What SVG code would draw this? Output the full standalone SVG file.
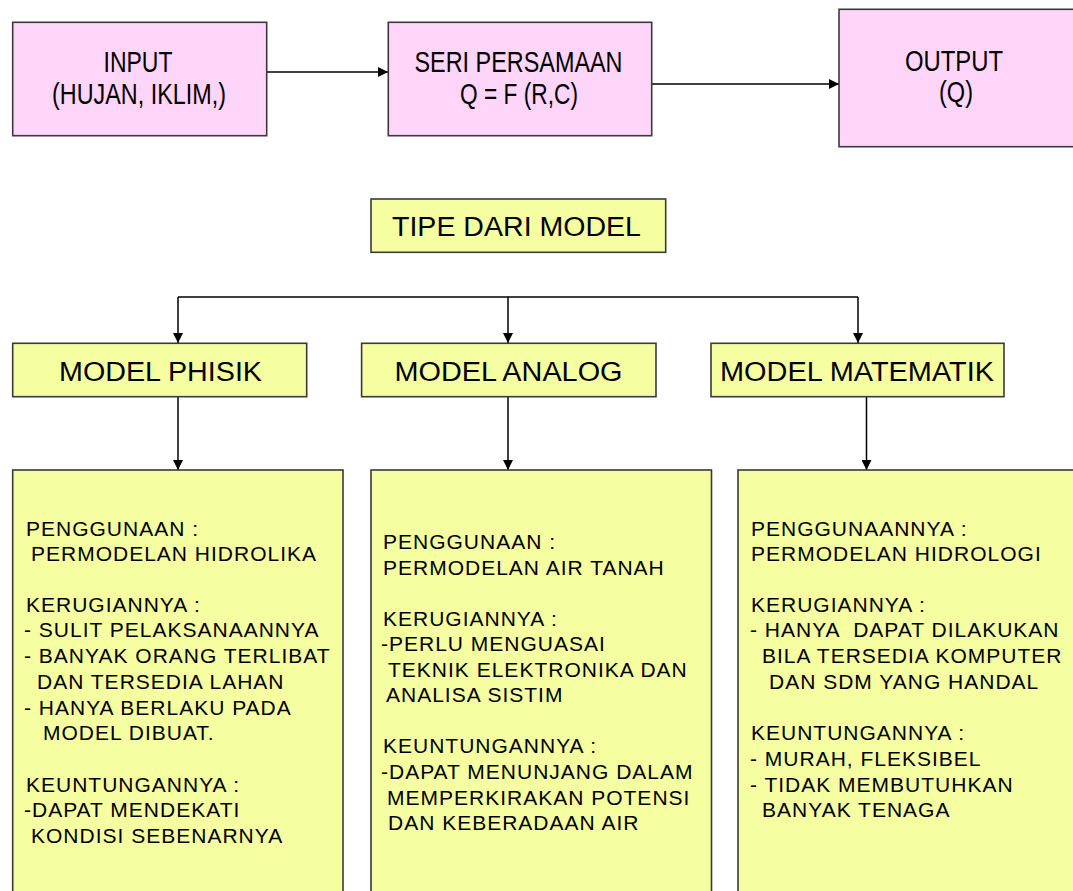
<svg xmlns="http://www.w3.org/2000/svg" width="1073" height="891" viewBox="0 0 1073 891">
<style>
.pink{fill:#FFD6FA;stroke:#3a3a3a;stroke-width:1.6}
.yel{fill:#F5FEA0;stroke:#3a3a3a;stroke-width:1.6}
.top{font-family:"Liberation Sans",Arial,sans-serif;font-size:29px;fill:#000;text-anchor:middle}
.mid{font-family:"Liberation Sans",Arial,sans-serif;font-size:27px;fill:#000;text-anchor:middle}
.body{font-family:"Liberation Sans",Arial,sans-serif;font-size:21px;fill:#000;letter-spacing:1px;white-space:pre}
.con{fill:none;stroke:#000;stroke-width:1.5}
</style>
<defs>
<marker id="ah" viewBox="0 0 10 10" refX="10" refY="5" markerWidth="10" markerHeight="10" markerUnits="userSpaceOnUse" orient="auto">
<path d="M0,0 L10,5 L0,10 z" fill="#000"/>
</marker>
</defs>
<rect width="1073" height="891" fill="#fff"/>

<g id="connectors">
<path class="con" d="M267,72 H388" marker-end="url(#ah)"/>
<path class="con" d="M652,84 H839" marker-end="url(#ah)"/>
<path class="con" d="M178,297 H858"/>
<path class="con" d="M178,297 V343" marker-end="url(#ah)"/>
<path class="con" d="M508,297 V343" marker-end="url(#ah)"/>
<path class="con" d="M858,297 V343" marker-end="url(#ah)"/>
<path class="con" d="M178,397 V470" marker-end="url(#ah)"/>
<path class="con" d="M508,397 V470" marker-end="url(#ah)"/>
<path class="con" d="M866.5,397 V470" marker-end="url(#ah)"/>
</g>

<g id="input">
<rect class="pink" x="12.7" y="22.3" width="254" height="113.4"/>
<text class="top" x="138" y="72" textLength="69" lengthAdjust="spacingAndGlyphs">INPUT</text>
<text class="top" x="139" y="104" textLength="174" lengthAdjust="spacingAndGlyphs">(HUJAN, IKLIM,)</text>
</g>

<g id="seri">
<rect class="pink" x="388.3" y="22.3" width="263.4" height="113.4"/>
<text class="top" x="518.5" y="72" textLength="208" lengthAdjust="spacingAndGlyphs">SERI PERSAMAAN</text>
<text class="top" x="519" y="104" textLength="118" lengthAdjust="spacingAndGlyphs">Q = F (R,C)</text>
</g>

<g id="output">
<rect class="pink" x="839" y="9.3" width="250" height="137.4"/>
<text class="top" x="954" y="71" textLength="98" lengthAdjust="spacingAndGlyphs">OUTPUT</text>
<text class="top" x="956" y="102" textLength="34" lengthAdjust="spacingAndGlyphs">(Q)</text>
</g>

<g id="tipe">
<rect class="yel" x="371" y="199" width="294.7" height="53.3"/>
<text class="mid" x="516.5" y="235.5" textLength="249" lengthAdjust="spacingAndGlyphs">TIPE DARI MODEL</text>
</g>

<g id="phisik">
<rect class="yel" x="12.7" y="343.3" width="294" height="53.4"/>
<text class="mid" x="160.5" y="381" textLength="203" lengthAdjust="spacingAndGlyphs">MODEL PHISIK</text>
</g>

<g id="analog">
<rect class="yel" x="361.6" y="343.3" width="294.4" height="53.4"/>
<text class="mid" x="508.5" y="381" textLength="228" lengthAdjust="spacingAndGlyphs">MODEL ANALOG</text>
</g>

<g id="matematik">
<rect class="yel" x="711" y="343.3" width="293" height="53.4"/>
<text class="mid" x="857" y="381" textLength="274" lengthAdjust="spacingAndGlyphs">MODEL MATEMATIK</text>
</g>

<g id="detail-phisik">
<rect class="yel" x="12.7" y="470" width="330.3" height="430"/>
<text class="body" x="26" y="536">PENGGUNAAN :</text>
<text class="body" x="31" y="561">PERMODELAN HIDROLIKA</text>
<text class="body" x="26" y="612">KERUGIANNYA :</text>
<text class="body" x="24" y="637">- SULIT PELAKSANAANNYA</text>
<text class="body" x="24" y="663">- BANYAK ORANG TERLIBAT</text>
<text class="body" x="37" y="689">DAN TERSEDIA LAHAN</text>
<text class="body" x="24" y="715">- HANYA BERLAKU PADA</text>
<text class="body" x="43" y="740">MODEL DIBUAT.</text>
<text class="body" x="26" y="792">KEUNTUNGANNYA :</text>
<text class="body" x="24" y="817">-DAPAT MENDEKATI</text>
<text class="body" x="31" y="843">KONDISI SEBENARNYA</text>
</g>

<g id="detail-analog">
<rect class="yel" x="371" y="470" width="340.5" height="430"/>
<text class="body" x="383" y="549">PENGGUNAAN :</text>
<text class="body" x="383" y="574.5">PERMODELAN AIR TANAH</text>
<text class="body" x="383" y="626">KERUGIANNYA :</text>
<text class="body" x="381" y="651">-PERLU MENGUASAI</text>
<text class="body" x="388" y="677">TEKNIK ELEKTRONIKA DAN</text>
<text class="body" x="386" y="702">ANALISA SISTIM</text>
<text class="body" x="383" y="753">KEUNTUNGANNYA :</text>
<text class="body" x="381" y="779">-DAPAT MENUNJANG DALAM</text>
<text class="body" x="387" y="804.5">MEMPERKIRAKAN POTENSI</text>
<text class="body" x="388" y="830">DAN KEBERADAAN AIR</text>
</g>

<g id="detail-matematik">
<rect class="yel" x="738" y="470" width="350" height="430"/>
<text class="body" x="751" y="536">PENGGUNAANNYA :</text>
<text class="body" x="751" y="561">PERMODELAN HIDROLOGI</text>
<text class="body" x="751" y="612">KERUGIANNYA :</text>
<text class="body" x="750" y="637">- HANYA  DAPAT DILAKUKAN</text>
<text class="body" x="762" y="663">BILA TERSEDIA KOMPUTER</text>
<text class="body" x="769" y="689">DAN SDM YANG HANDAL</text>
<text class="body" x="751" y="740">KEUNTUNGANNYA :</text>
<text class="body" x="750" y="766">- MURAH, FLEKSIBEL</text>
<text class="body" x="750" y="792">- TIDAK MEMBUTUHKAN</text>
<text class="body" x="762" y="817">BANYAK TENAGA</text>
</g>
</svg>
